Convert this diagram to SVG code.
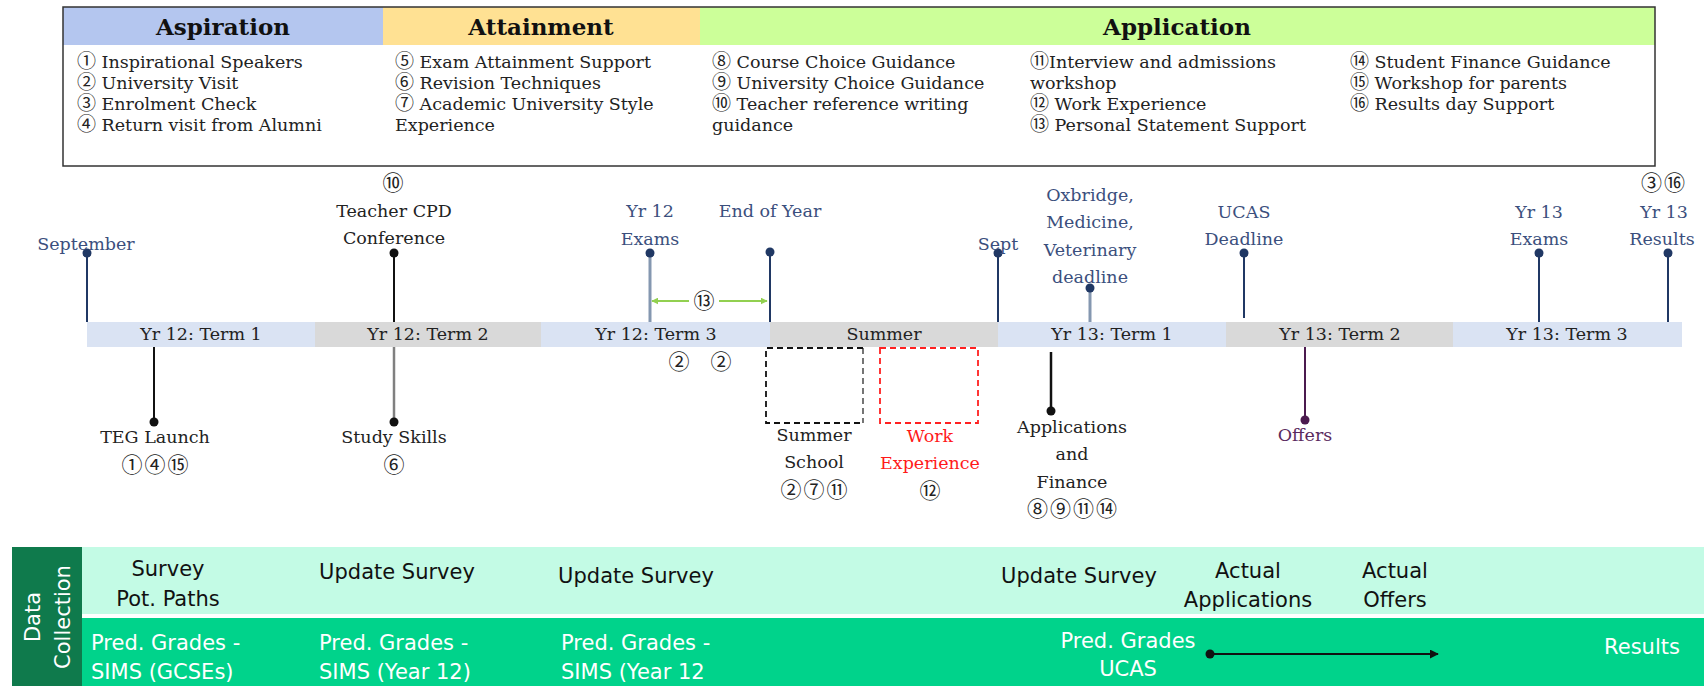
<svg xmlns="http://www.w3.org/2000/svg" width="1704" height="686" viewBox="0 0 1704 686">
<defs>
<style>
.hdr{font-family:"DejaVu Serif",serif;font-weight:bold;font-size:23px;fill:#111;text-anchor:middle}
.item{font-family:"DejaVu Serif","Noto Sans CJK JP","DejaVu Sans",serif;font-size:17.5px;fill:#222}
.cl{font-size:19px}
.tl{font-family:"DejaVu Serif","Noto Sans CJK JP","DejaVu Sans",serif;font-size:17.5px;text-anchor:middle;fill:#222}
.cn{font-size:21px;letter-spacing:2px}
.blue{fill:#3b4f7d}
.red{fill:#ff1a1a}
.purple{fill:#5a2a5e}
.term{font-family:"DejaVu Serif",serif;font-size:17.5px;fill:#222;text-anchor:middle}
.dc{font-family:"DejaVu Sans",sans-serif;font-size:21px;fill:#111}
.dcm{text-anchor:middle}
.wt{fill:#fff}
.navy{stroke:#203864;stroke-width:2;fill:none}
.lgt{stroke:#8497b0;stroke-width:3;fill:none}
.blk{stroke:#111;stroke-width:2;fill:none}
.dnavy{fill:#203864}
.dblk{fill:#111}
</style>
<marker id="garrow" viewBox="0 0 10 10" refX="9" refY="5" markerWidth="7" markerHeight="7" orient="auto-start-reverse" markerUnits="userSpaceOnUse">
<path d="M0,0 L10,5 L0,10 z" fill="#92d050"/>
</marker>
<marker id="barrow" viewBox="0 0 10 10" refX="9" refY="5" markerWidth="9" markerHeight="9" orient="auto" markerUnits="userSpaceOnUse">
<path d="M0,0 L10,5 L0,10 z" fill="#111"/>
</marker>
</defs>
<rect width="1704" height="686" fill="#fff"/>

<!-- Legend box -->
<g id="legend">
<rect x="63" y="7" width="320" height="38" fill="#b4c6ef"/>
<rect x="383" y="7" width="317" height="38" fill="#ffe193"/>
<rect x="700" y="7" width="955" height="38" fill="#ccff99"/>
<rect x="63" y="7" width="1592" height="159" fill="none" stroke="#333" stroke-width="1.5"/>
<text class="hdr" x="223" y="35">Aspiration</text>
<text class="hdr" x="541" y="35">Attainment</text>
<text class="hdr" x="1177" y="35">Application</text>
<text class="item" x="77" y="68"><tspan class="cl">①</tspan> Inspirational Speakers</text>
<text class="item" x="77" y="89"><tspan class="cl">②</tspan> University Visit</text>
<text class="item" x="77" y="110"><tspan class="cl">③</tspan> Enrolment Check</text>
<text class="item" x="77" y="131"><tspan class="cl">④</tspan> Return visit from Alumni</text>
<text class="item" x="395" y="68"><tspan class="cl">⑤</tspan> Exam Attainment Support</text>
<text class="item" x="395" y="89"><tspan class="cl">⑥</tspan> Revision Techniques</text>
<text class="item" x="395" y="110"><tspan class="cl">⑦</tspan> Academic University Style</text>
<text class="item" x="395" y="131">Experience</text>
<text class="item" x="712" y="68"><tspan class="cl">⑧</tspan> Course Choice Guidance</text>
<text class="item" x="712" y="89"><tspan class="cl">⑨</tspan> University Choice Guidance</text>
<text class="item" x="712" y="110"><tspan class="cl">⑩</tspan> Teacher reference writing</text>
<text class="item" x="712" y="131">guidance</text>
<text class="item" x="1030" y="68"><tspan class="cl">⑪</tspan>Interview and admissions</text>
<text class="item" x="1030" y="89">workshop</text>
<text class="item" x="1030" y="110"><tspan class="cl">⑫</tspan> Work Experience</text>
<text class="item" x="1030" y="131"><tspan class="cl">⑬</tspan> Personal Statement Support</text>
<text class="item" x="1350" y="68"><tspan class="cl">⑭</tspan> Student Finance Guidance</text>
<text class="item" x="1350" y="89"><tspan class="cl">⑮</tspan> Workshop for parents</text>
<text class="item" x="1350" y="110"><tspan class="cl">⑯</tspan> Results day Support</text>
</g>

<!-- Term bar -->
<g id="terms">
<rect x="87" y="322" width="228" height="25" fill="#dae3f3"/>
<rect x="315" y="322" width="226" height="25" fill="#d9d9d9"/>
<rect x="541" y="322" width="229" height="25" fill="#dae3f3"/>
<rect x="770" y="322" width="228" height="25" fill="#d9d9d9"/>
<rect x="998" y="322" width="228" height="25" fill="#dae3f3"/>
<rect x="1226" y="322" width="227" height="25" fill="#d9d9d9"/>
<rect x="1453" y="322" width="229" height="25" fill="#dae3f3"/>
<text class="term" x="201" y="340">Yr 12: Term 1</text>
<text class="term" x="428" y="340">Yr 12: Term 2</text>
<text class="term" x="656" y="340">Yr 12: Term 3</text>
<text class="term" x="884" y="340">Summer</text>
<text class="term" x="1112" y="340">Yr 13: Term 1</text>
<text class="term" x="1340" y="340">Yr 13: Term 2</text>
<text class="term" x="1567" y="340">Yr 13: Term 3</text>
</g>

<!-- Connectors -->
<g id="connectors">
<line class="navy" x1="87" y1="253" x2="87" y2="322"/><circle class="dnavy" cx="87" cy="253" r="4.5"/>
<line class="blk" x1="394" y1="253" x2="394" y2="322"/><circle class="dblk" cx="394" cy="253" r="4.5"/>
<line class="lgt" x1="650" y1="253" x2="650" y2="322"/><circle class="dnavy" cx="650" cy="253" r="4.5"/>
<line class="navy" x1="770" y1="252" x2="770" y2="322"/><circle class="dnavy" cx="770" cy="252" r="4.5"/>
<line class="navy" x1="998" y1="253" x2="998" y2="322"/><circle class="dnavy" cx="998" cy="253" r="4.5"/>
<line class="lgt" x1="1090" y1="288" x2="1090" y2="322"/><circle class="dnavy" cx="1090" cy="288" r="4.5"/>
<line class="navy" x1="1244" y1="253" x2="1244" y2="318"/><circle class="dnavy" cx="1244" cy="253" r="4.5"/>
<line class="navy" x1="1539" y1="253" x2="1539" y2="322"/><circle class="dnavy" cx="1539" cy="253" r="4.5"/>
<line class="navy" x1="1668" y1="253" x2="1668" y2="322"/><circle class="dnavy" cx="1668" cy="253" r="4.5"/>
<line x1="652" y1="301" x2="689" y2="301" stroke="#92d050" stroke-width="2" marker-start="url(#garrow)"/>
<line x1="719" y1="301" x2="767" y2="301" stroke="#92d050" stroke-width="2" marker-end="url(#garrow)"/>
<line class="blk" x1="154" y1="347" x2="154" y2="422"/><circle class="dblk" cx="154" cy="422" r="4.5"/>
<line x1="394" y1="347" x2="394" y2="422" stroke="#808080" stroke-width="2.5"/><circle class="dblk" cx="394" cy="422" r="4.5"/>
<line x1="1051" y1="352" x2="1051" y2="411" stroke="#111" stroke-width="2.5"/><circle class="dblk" cx="1051" cy="411" r="4.5"/>
<line x1="1305" y1="347" x2="1305" y2="420" stroke="#4b1a4f" stroke-width="2"/><circle cx="1305" cy="420" r="4.5" fill="#4b1a4f"/>
</g>

<!-- Events above -->
<g id="ev-september"><text class="tl blue" x="86" y="250">September</text></g>
<g id="ev-cpd">
<text class="tl cn" x="394" y="190">⑩</text>
<text class="tl" x="394" y="217">Teacher CPD</text>
<text class="tl" x="394" y="244">Conference</text>
</g>
<g id="ev-yr12exams"><text class="tl blue" x="650" y="217">Yr 12</text><text class="tl blue" x="650" y="245">Exams</text></g>
<g id="ev-endyear"><text class="tl blue" x="770" y="217">End of Year</text></g>
<g id="ev-ps"><text class="tl cn" x="705" y="308">⑬</text></g>
<g id="ev-sept"><text class="tl blue" x="998" y="250">Sept</text></g>
<g id="ev-oxbridge">
<text class="tl blue" x="1090" y="201">Oxbridge,</text>
<text class="tl blue" x="1090" y="228">Medicine,</text>
<text class="tl blue" x="1090" y="256">Veterinary</text>
<text class="tl blue" x="1090" y="283">deadline</text>
</g>
<g id="ev-ucas"><text class="tl blue" x="1244" y="218">UCAS</text><text class="tl blue" x="1244" y="245">Deadline</text></g>
<g id="ev-yr13exams"><text class="tl blue" x="1539" y="218">Yr 13</text><text class="tl blue" x="1539" y="245">Exams</text></g>
<g id="ev-results">
<text class="tl cn" x="1664" y="190">③⑯</text>
<text class="tl blue" x="1664" y="218">Yr 13</text>
<text class="tl blue" x="1662" y="245">Results</text>
</g>

<!-- Events below -->
<g id="ev-teg"><text class="tl" x="155" y="443">TEG Launch</text><text class="tl cn" x="156" y="472">①④⑮</text></g>
<g id="ev-study"><text class="tl" x="394" y="443">Study Skills</text><text class="tl cn" x="395" y="472">⑥</text></g>
<g id="ev-visits"><text class="tl cn" x="680" y="369">②</text><text class="tl cn" x="722" y="369">②</text></g>
<g id="ev-summerschool">
<path d="M863,348 V423" stroke="#666" stroke-width="1.8" stroke-dasharray="6,4" fill="none"/>
<path d="M863,348 H766 V423 H863" stroke="#111" stroke-width="1.8" stroke-dasharray="6,4" fill="none"/>
<text class="tl" x="814" y="441">Summer</text>
<text class="tl" x="814" y="468">School</text>
<text class="tl cn" x="815" y="497">②⑦⑪</text>
</g>
<g id="ev-workexp">
<rect x="880" y="348" width="98" height="75" fill="none" stroke="#ff2020" stroke-width="1.8" stroke-dasharray="6,4"/>
<text class="tl red" x="930" y="442">Work</text>
<text class="tl red" x="930" y="469">Experience</text>
<text class="tl cn" x="931" y="498">⑫</text>
</g>
<g id="ev-applications">
<text class="tl" x="1072" y="433">Applications</text>
<text class="tl" x="1072" y="460">and</text>
<text class="tl" x="1072" y="488">Finance</text>
<text class="tl cn" x="1073" y="516">⑧⑨⑪⑭</text>
</g>
<g id="ev-offers"><text class="tl purple" x="1305" y="441">Offers</text></g>

<!-- Data collection -->
<g id="data-collection">
<rect x="12" y="547" width="70" height="139" fill="#0f7a4c"/>
<rect x="82" y="547" width="1622" height="67" fill="#c3fbe5"/>
<rect x="82" y="618" width="1622" height="68" fill="#00d38b"/>
<g transform="translate(47,617) rotate(-90)">
<text class="dc dcm wt" x="0" y="-7" font-size="19">Data</text>
<text class="dc dcm wt" x="0" y="23" font-size="19">Collection</text>
</g>
<text class="dc dcm" x="168" y="576">Survey</text>
<text class="dc dcm" x="168" y="606">Pot. Paths</text>
<text class="dc dcm" x="397" y="579">Update Survey</text>
<text class="dc dcm" x="636" y="583">Update Survey</text>
<text class="dc dcm" x="1079" y="583">Update Survey</text>
<text class="dc dcm" x="1248" y="578">Actual</text>
<text class="dc dcm" x="1248" y="607">Applications</text>
<text class="dc dcm" x="1395" y="578">Actual</text>
<text class="dc dcm" x="1395" y="607">Offers</text>
<text class="dc wt" x="91" y="650">Pred. Grades -</text>
<text class="dc wt" x="91" y="679">SIMS (GCSEs)</text>
<text class="dc wt" x="319" y="650">Pred. Grades -</text>
<text class="dc wt" x="319" y="679">SIMS (Year 12)</text>
<text class="dc wt" x="561" y="650">Pred. Grades -</text>
<text class="dc wt" x="561" y="679">SIMS (Year 12</text>
<text class="dc dcm wt" x="1128" y="648">Pred. Grades</text>
<text class="dc dcm wt" x="1128" y="676">UCAS</text>
<text class="dc dcm wt" x="1642" y="654">Results</text>
<line x1="1210" y1="654" x2="1438" y2="654" stroke="#111" stroke-width="2" marker-end="url(#barrow)"/>
<circle cx="1210" cy="654" r="4.5" fill="#111"/>
</g>
</svg>
